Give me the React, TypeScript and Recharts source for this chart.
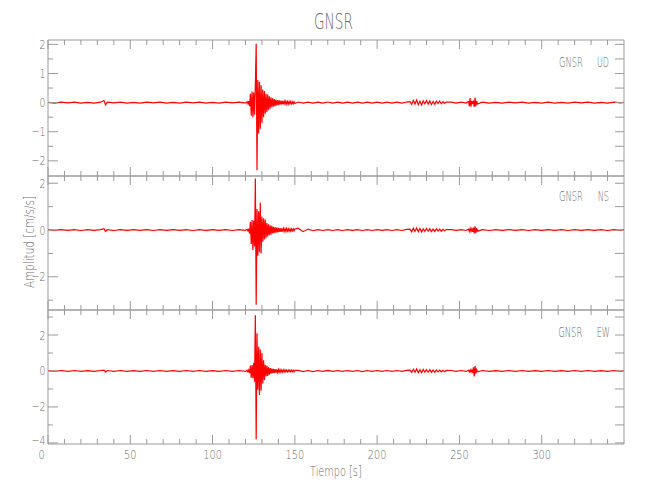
import React from "react";
import { LineChart, Line, XAxis, YAxis } from "recharts";

// sample times in seconds, shared by the three components
const TIME = [
  0, 4, 8, 12, 16, 20, 24, 28, 32, 34, 35, 36, 40, 44, 48, 52, 56, 60, 64, 68, 72, 76, 80, 84, 88, 92, 96, 100, 104, 108, 112, 116, 120,
  121, 121.5, 122, 122.5, 123, 123.5, 124, 124.5, 125, 125.5, 126, 126.5, 127, 127.5, 128, 128.5, 129, 129.5, 130, 130.5,
  131, 131.5, 132, 132.5, 133, 133.5, 134, 134.5, 135, 135.5, 136, 136.5, 137, 137.5, 138, 138.5, 139, 139.5, 140, 140.5,
  141, 141.5, 142, 142.5, 143, 143.5, 144, 144.5, 145, 145.5, 146, 146.5, 147, 147.5, 148, 148.5, 149, 149.5, 150,
  152, 155, 158, 161, 164, 167, 170, 173, 176, 179, 182, 185, 188, 191, 194, 197, 200, 203, 206, 209, 212, 215, 218,
  220, 221, 222, 223, 224, 225, 226, 227, 228, 229, 230, 231, 232, 233, 234, 235, 236, 237, 238, 239, 240, 241, 242,
  245, 248, 251, 254,
  255.5, 256, 256.5, 257, 257.5, 258, 258.5, 259, 259.5, 260, 260.5, 261,
  264, 268, 272, 276, 280, 284, 288, 292, 296, 300, 304, 308, 312, 316, 320, 324, 328, 332, 336, 340, 344, 348, 350,
];

// acceleration, cm/s/s
const UD = [
  0.01, -0.015, 0.015, -0.01, 0.015, -0.015, 0.01, -0.015, 0.015, 0.07, -0.08, 0.015, -0.01, 0.015, -0.015, 0.01, -0.015, 0.015, -0.01, 0.015, -0.015, 0.01, -0.015, 0.015, -0.01, 0.015, -0.015, 0.01, -0.015, 0.015, -0.01, 0.015, -0.015,
  0.03, -0.04, 0.05, -0.12, 0.3, -0.45, 0.38, -0.5, 0.35, -0.42,
  0.6, 2.02, -2.32, 0.78, -1.05, 0.72, -0.9, 0.6, -0.7, 0.45,
  -0.5, 0.4, -0.38, 0.3, -0.32, 0.28, -0.25, 0.22, -0.2, 0.18,
  -0.16, 0.15, -0.14, 0.12, -0.12, 0.1, -0.1, 0.09, -0.08, 0.08,
  -0.07, 0.07, -0.06, 0.06, -0.06, 0.05, -0.05, 0.05, -0.05, 0.04,
  -0.05, 0.04, -0.04, 0.04, -0.04, 0.03, -0.04, 0.03, -0.03,
  0.02, -0.02, 0.015, -0.02, 0.015, -0.015, 0.02, -0.015, 0.015, -0.015, 0.015, -0.015, 0.015, -0.02, 0.015, -0.015, 0.015, -0.015, 0.015, -0.015, 0.015, -0.015, 0.02,
  0.03, -0.06, 0.08, -0.05, 0.09, -0.07, 0.05, -0.08, 0.06, -0.04, 0.07, -0.05, 0.06, -0.07, 0.04, -0.06, 0.05, -0.03, 0.05, -0.04, 0.03, -0.03, 0.02,
  0.015, -0.02, 0.015, -0.015,
  0.04, -0.12, 0.16, -0.14, 0.06, -0.05, 0.07, -0.15, 0.17, -0.12, 0.06, -0.05,
  0.015, -0.015, 0.01, -0.015, 0.015, -0.01, 0.015, -0.015, 0.01, -0.015, 0.015, -0.015, 0.01, -0.015, 0.015, -0.01, 0.015, -0.015, 0.01, -0.015, 0.015, -0.01, 0.01,
];

const NS = [
  0.015, -0.015, 0.02, -0.015, 0.015, -0.02, 0.015, -0.015, 0.02, 0.06, -0.06, 0.015, -0.02, 0.015, -0.015, 0.02, -0.015, 0.015, -0.02, 0.015, -0.015, 0.02, -0.015, 0.015, -0.02, 0.015, -0.015, 0.02, -0.015, 0.015, -0.02, 0.015, -0.015,
  0.03, -0.04, 0.06, -0.15, 0.35, -0.6, 0.43, -0.85, 0.4, -0.7,
  2.2, -3.2, 0.9, -1.1, 0.8, -0.95, 1.17, -1.0, 0.57, -0.5,
  0.5, -0.4, 0.45, -0.35, 0.3, -0.28, 0.25, -0.22, 0.2, -0.2,
  0.18, -0.15, 0.14, -0.12, 0.12, -0.11, 0.1, -0.1, 0.09, -0.08,
  0.08, -0.08, 0.07, -0.07, 0.07, -0.06, 0.06, -0.06, 0.06, -0.05,
  0.05, -0.05, 0.05, -0.05, 0.05, -0.04, 0.05, -0.04, 0.04,
  0.08, -0.07, 0.04, -0.03, 0.02, -0.02, 0.02, -0.02, 0.015, -0.02, 0.02, -0.015, 0.02, -0.02, 0.015, -0.02, 0.02, -0.015, 0.02, -0.02, 0.015, -0.02, 0.025,
  0.04, -0.07, 0.08, -0.06, 0.09, -0.07, 0.06, -0.08, 0.05, -0.06, 0.07, -0.05, 0.06, -0.07, 0.04, -0.06, 0.05, -0.04, 0.04, -0.05, 0.03, -0.03, 0.02,
  0.02, -0.015, 0.02, -0.02,
  0.04, -0.06, 0.07, -0.06, 0.05, -0.08, 0.1, -0.15, 0.16, -0.12, 0.08, -0.05,
  0.015, -0.02, 0.015, -0.015, 0.02, -0.015, 0.015, -0.02, 0.015, -0.015, 0.02, -0.015, 0.015, -0.02, 0.015, -0.015, 0.02, -0.015, 0.015, -0.02, 0.015, -0.015, 0.02,
];

const EW = [
  0.02, -0.025, 0.025, -0.02, 0.025, -0.025, 0.02, -0.025, 0.025, 0.05, -0.06, 0.025, -0.02, 0.025, -0.025, 0.02, -0.025, 0.025, -0.02, 0.025, -0.025, 0.02, -0.025, 0.025, -0.02, 0.025, -0.025, 0.02, -0.025, 0.025, -0.02, 0.025, -0.025,
  0.04, -0.05, 0.06, -0.12, 0.3, -0.38, 0.33, -0.4, 0.45, -0.6,
  3.1, -3.8, 2.1, -1.05, 1.35, -1.33, 1.2, -1.1, 1.0, -0.7,
  0.6, -0.5, 0.35, -0.3, 0.3, -0.28, 0.22, -0.2, 0.16, -0.15,
  0.13, -0.12, 0.12, -0.11, 0.1, -0.1, 0.09, -0.09, 0.08, -0.07,
  0.07, -0.07, 0.06, -0.06, 0.06, -0.05, 0.06, -0.05, 0.05, -0.05,
  0.05, -0.04, 0.05, -0.04, 0.04, -0.04, 0.04, -0.04, 0.04,
  0.03, -0.03, 0.025, -0.03, 0.025, -0.025, 0.03, -0.025, 0.025, -0.025, 0.025, -0.025, 0.025, -0.03, 0.025, -0.025, 0.025, -0.025, 0.025, -0.025, 0.025, -0.025, 0.03,
  0.05, -0.08, 0.1, -0.07, 0.11, -0.09, 0.07, -0.1, 0.08, -0.06, 0.08, -0.07, 0.07, -0.08, 0.05, -0.07, 0.06, -0.05, 0.05, -0.05, 0.04, -0.04, 0.03,
  0.025, -0.025, 0.025, -0.025,
  0.04, -0.05, 0.06, -0.06, 0.05, -0.1, 0.2, -0.3, 0.28, -0.15, 0.08, -0.05,
  0.025, -0.025, 0.02, -0.025, 0.025, -0.02, 0.025, -0.025, 0.02, -0.025, 0.025, -0.025, 0.02, -0.025, 0.025, -0.02, 0.025, -0.025, 0.02, -0.025, 0.025, -0.02, 0.025,
];

const X_TICKS = [0, 10, 20, 30, 40, 50, 60, 70, 80, 90, 100, 110, 120, 130, 140, 150, 160, 170, 180, 190, 200, 210, 220, 230, 240, 250, 260, 270, 280, 290, 300, 310, 320, 330, 340];
const X_LABELS = [0, 50, 100, 150, 200, 250, 300];

const UD_TICKS = [-2, -1.5, -1, -0.5, 0, 0.5, 1, 1.5, 2];
const UD_LABELS = [-2, -1, 0, 1, 2];
const NS_TICKS = [-3, -2, -1, 0, 1, 2];
const NS_LABELS = [-2, 0, 2];
const EW_TICKS = [-4, -3, -2, -1, 0, 1, 2, 3];
const EW_LABELS = [-4, -2, 0, 2];

const STATION = "GNSR";

const rows = TIME.map((t, i) => ({ t, UD: UD[i], NS: NS[i], EW: EW[i] }));

const AXIS = "#9a9a9a";
const INK = "#6a6a6a";
const FONT = '"DejaVu Sans", "Liberation Sans", sans-serif';
const LEFT = 48;
const RIGHT = 26;

const PANELS = [
  { key: "UD", top: 40, bottom: 176, domain: [-2.52, 2.15], ticks: UD_TICKS, labels: UD_LABELS, base: 66.7, g: [559, 582.7], c: [597, 609] },
  { key: "NS", top: 176, bottom: 310, domain: [-3.42, 2.31], ticks: NS_TICKS, labels: NS_LABELS, base: 200.7, g: [559, 582.7], c: [597.7, 609] },
  { key: "EW", top: 310, bottom: 444, domain: [-4.06, 3.39], ticks: EW_TICKS, labels: EW_LABELS, base: 337.3, g: [558.3, 582.3], c: [596.7, 610] },
];

const fmt = (v: number) => (v < 0 ? "\u2212" + Math.abs(v) : String(v));

const Narrow = ({ x, y, size, sx, anchor, children }: any) => (
  <text
    transform={`translate(${x},${y}) scale(${sx},1)`}
    fontSize={size}
    textAnchor={anchor}
    fill={INK}
    fontFamily={FONT}
    fontWeight={200}
  >
    {children}
  </text>
);

const Fit = ({ x0, x1, y, size, children }: any) => (
  <text x={x0} y={y} textLength={x1 - x0} lengthAdjust="spacingAndGlyphs" fontSize={size} fill={INK} fontFamily={FONT} fontWeight={200}>
    {children}
  </text>
);

// labels near the panel bottom are lifted so they stay inside it, as in the plot
const leftTick = (labels: number[], bottom: number) => (props: any) => {
  const { x, y, payload } = props;
  const major = labels.includes(payload.value);
  return (
    <g>
      <line x1={x} y1={y} x2={x + (major ? 10 : 5)} y2={y} stroke={AXIS} />
      {major && (
        <Narrow x={x - 2.5} y={Math.min(y + 4.5, bottom + 1)} size={13} sx={0.72} anchor="end">
          {fmt(payload.value)}
        </Narrow>
      )}
    </g>
  );
};

const rightTick = (props: any) => {
  const { x, y } = props;
  return <line x1={x} y1={y} x2={x - 9} y2={y} stroke={AXIS} />;
};

const xTick = (side: "top" | "bottom", withLabels: boolean) => (props: any) => {
  const { x, y, payload } = props;
  const major = X_LABELS.includes(payload.value);
  const len = major ? 9 : 5;
  const dir = side === "top" ? 1 : -1;
  return (
    <g>
      <line x1={x} y1={y} x2={x} y2={y + dir * len} stroke={AXIS} />
      {withLabels && major && (
        <Narrow x={payload.value === 0 ? x - 6.5 : x} y={y + 14.5} size={13} sx={0.75} anchor="middle">
          {fmt(payload.value)}
        </Narrow>
      )}
    </g>
  );
};

// axes need a size of at least 1px to be drawn, so the margins give that pixel back
const Panel = ({ p, last }: any) => (
  <div style={{ position: "absolute", left: 0, top: 0 }}>
    <LineChart
      width={650}
      height={500}
      data={rows}
      margin={{ top: p.top - 1, bottom: 500 - p.bottom - 1, left: LEFT - 1, right: RIGHT - 1 }}
    >
      <XAxis
        xAxisId="b"
        dataKey="t"
        type="number"
        domain={[0, 350]}
        ticks={X_TICKS}
        interval={0}
        height={1}
        tickSize={0}
        tickMargin={0}
        tickLine={false}
        axisLine={{ stroke: AXIS }}
        tick={xTick("bottom", last)}
        allowDataOverflow
      />
      <XAxis
        xAxisId="t"
        orientation="top"
        dataKey="t"
        type="number"
        domain={[0, 350]}
        ticks={X_TICKS}
        interval={0}
        height={1}
        tickSize={0}
        tickMargin={0}
        tickLine={false}
        axisLine={{ stroke: AXIS }}
        tick={xTick("top", false)}
        allowDataOverflow
      />
      <YAxis
        yAxisId="l"
        type="number"
        domain={p.domain}
        ticks={p.ticks}
        interval={0}
        width={1}
        tickSize={0}
        tickMargin={0}
        tickLine={false}
        axisLine={{ stroke: AXIS }}
        tick={leftTick(p.labels, p.bottom)}
        allowDataOverflow
      />
      <YAxis
        yAxisId="r"
        orientation="right"
        type="number"
        domain={p.domain}
        ticks={p.ticks}
        interval={0}
        width={1}
        tickSize={0}
        tickMargin={0}
        tickLine={false}
        axisLine={{ stroke: AXIS }}
        tick={rightTick}
        allowDataOverflow
      />
      <Line
        xAxisId="b"
        yAxisId="l"
        dataKey={p.key}
        type="linear"
        stroke="#ff0000"
        strokeWidth={1.2}
        dot={false}
        isAnimationActive={false}
      />
    </LineChart>
  </div>
);

export default function App() {
  return (
    <div style={{ position: "absolute", left: 0, top: 0, width: 650, height: 500, background: "#fff" }}>
      {PANELS.map((p, i) => (
        <Panel key={p.key} p={p} last={i === PANELS.length - 1} />
      ))}
      <svg width={650} height={500} style={{ position: "absolute", left: 0, top: 0, pointerEvents: "none" }}>
        <Fit x0={314} x1={353} y={29.3} size={22}>{STATION}</Fit>
        {PANELS.map((p) => (
          <g key={p.key}>
            <Fit x0={p.g[0]} x1={p.g[1]} y={p.base} size={14}>{STATION}</Fit>
            <Fit x0={p.c[0]} x1={p.c[1]} y={p.base} size={14}>{p.key}</Fit>
          </g>
        ))}
        <Fit x0={310} x1={361.7} y={476} size={13.5}>Tiempo  [s]</Fit>
        <g transform="rotate(-90)">
          <Fit x0={-288} x1={-196} y={34} size={13.5}>Amplitud  [cm/s/s]</Fit>
        </g>
      </svg>
    </div>
  );
}
